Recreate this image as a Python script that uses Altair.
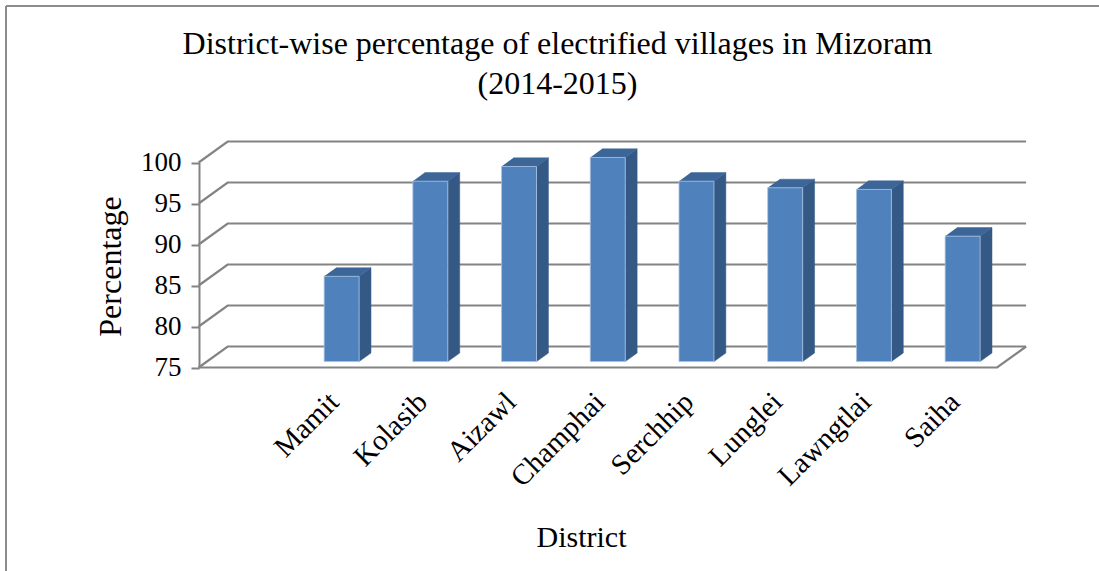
import altair as alt
import pandas as pd

# ---- data -------------------------------------------------------------
districts = ["Mamit", "Kolasib", "Aizawl", "Champhai",
             "Serchhip", "Lunglei", "Lawngtlai", "Saiha"]
percent = [85.4, 97.0, 98.8, 99.9, 97.0, 96.2, 96.0, 90.3]
y_ticks = [75, 80, 85, 90, 95, 100]
title_lines = ["District-wise percentage of electrified villages in Mizoram",
               "(2014-2015)"]

# ---- 3-D box geometry (x in category slots, y in percentage points) ----
BASE = 75
X_LEFT = -1.52      # front edge of the left wall
X_RIGHT = 7.48      # front-right corner of the floor
DEPTH_X = 0.327     # how far the back wall is shifted right
DEPTH_Y = 2.56      # how far the back wall is shifted up
BAR_HALF = 0.197    # half width of a column
BAR_FRONT = 0.28    # depth of the column front face (fraction of box depth)
BAR_BACK = 0.69     # depth of the column back face

SERIF = "Liberation Serif"
GRID = "#838383"

# gridlines run along the left wall and then across the back wall
grid_rows = []
for v in y_ticks:
    pts = [(X_LEFT, v), (X_LEFT + DEPTH_X, v + DEPTH_Y),
           (X_RIGHT + DEPTH_X, v + DEPTH_Y)]
    for k, (x, y) in enumerate(pts):
        grid_rows.append({"level": v, "k": k, "x": x, "y": y})
grid_df = pd.DataFrame(grid_rows)

# front and right edges of the floor
floor_pts = [(X_LEFT, BASE), (X_RIGHT, BASE), (X_RIGHT + DEPTH_X, BASE + DEPTH_Y)]
floor_df = pd.DataFrame([{"k": k, "x": x, "y": y} for k, (x, y) in enumerate(floor_pts)])

# each column: a front rectangle plus two parallelograms (side and top)
front_rows, side_rows, top_rows = [], [], []
for i, (name, v) in enumerate(zip(districts, percent)):
    xl, xr = i - BAR_HALF, i + BAR_HALF
    f, b = BAR_FRONT, BAR_BACK
    front_rows.append({"district": name, "value": v,
                       "x": xl + f * DEPTH_X, "x2": xr + f * DEPTH_X,
                       "y": v + f * DEPTH_Y, "y2": BASE + f * DEPTH_Y})
    side = [(xr + f * DEPTH_X, v + f * DEPTH_Y), (xr + b * DEPTH_X, v + b * DEPTH_Y),
            (xr + b * DEPTH_X, BASE + b * DEPTH_Y), (xr + f * DEPTH_X, BASE + f * DEPTH_Y)]
    top = [(xl + f * DEPTH_X, v + f * DEPTH_Y), (xr + f * DEPTH_X, v + f * DEPTH_Y),
           (xr + b * DEPTH_X, v + b * DEPTH_Y), (xl + b * DEPTH_X, v + b * DEPTH_Y)]
    for k, (x, y) in enumerate(side):
        side_rows.append({"district": name, "k": k, "x": x, "y": y})
    for k, (x, y) in enumerate(top):
        top_rows.append({"district": name, "k": k, "x": x, "y": y})
front_df = pd.DataFrame(front_rows)
side_df = pd.DataFrame(side_rows)
top_df = pd.DataFrame(top_rows)

# ---- scales and axes ---------------------------------------------------
x_scale = alt.Scale(domain=[0, 7], range=[333.5, 954.5], zero=False, nice=False)
y_scale = alt.Scale(domain=[75, 100], range=[367.5, 162.5], zero=False, nice=False)

label_expr = "[" + ",".join(f"'{d}'" for d in districts) + "][datum.value]"
x_axis = alt.Axis(values=list(range(len(districts))), labelExpr=label_expr,
                  orient="bottom", offset=-196, grid=False, ticks=False, domain=False,
                  labelAngle=-45, labelAlign="right", labelBaseline="middle",
                  labelFlush=False, labelOverlap=False, labelBound=False,
                  labelFont=SERIF, labelFontSize=29, labelColor="black", labelPadding=22,
                  title="District", titleFont=SERIF, titleFontSize=30,
                  titleFontWeight="normal", titleColor="black",
                  titleX=581, titleY=162, titleBaseline="middle", titleAlign="center")
y_axis = alt.Axis(values=y_ticks, orient="left", offset=-199, grid=False,
                  domainColor=GRID, domainWidth=2, tickColor=GRID, tickWidth=2, tickSize=8,
                  labelFont=SERIF, labelFontSize=27, labelColor="black", labelPadding=10,
                  title="Percentage", titleFont=SERIF, titleFontSize=32,
                  titleFontWeight="normal", titleColor="black",
                  titleX=-89, titleY=266, titleBaseline="middle", titleAlign="center")

X = alt.X("x:Q", scale=x_scale, axis=x_axis)
Y = alt.Y("y:Q", scale=y_scale, axis=y_axis)

grid = alt.Chart(grid_df).mark_line(color=GRID, strokeWidth=2.2).encode(
    x=X, y=Y, detail="level:N", order="k:Q")
floor = alt.Chart(floor_df).mark_line(color=GRID, strokeWidth=2.2).encode(
    x=X, y=Y, order="k:Q")

# closed outlines filled as polygons
side = alt.Chart(side_df).mark_line(fill="#355985", stroke="#355985", strokeWidth=0.5).encode(
    x=X, y=Y, detail="district:N", order="k:Q")
top = alt.Chart(top_df).mark_line(fill="#3c6598", stroke="#3c6598", strokeWidth=0.5).encode(
    x=X, y=Y, detail="district:N", order="k:Q")
front = alt.Chart(front_df).mark_rect(color="#4f81bd", stroke="#a9c1df", strokeWidth=0.8).encode(
    x=X, x2="x2:Q", y=Y, y2="y2:Q")

# chart frame: left and top edges
frame_src = pd.DataFrame({"k": [0]})
frame_left = alt.Chart(frame_src).mark_rule(color="#8c8c8c", strokeWidth=2).encode(
    x=alt.value(6), y=alt.value(6), y2=alt.value(571))
frame_top = alt.Chart(frame_src).mark_rule(color="#8c8c8c", strokeWidth=2).encode(
    x=alt.value(6), x2=alt.value(1099), y=alt.value(6))

chart = alt.layer(frame_left, frame_top, grid, floor, side, top, front).properties(
    width=1099, height=571,
    title=alt.TitleParams(text=title_lines, orient="top", anchor="middle",
                          font=SERIF, fontSize=32, fontWeight="normal", color="black",
                          lineHeight=40, baseline="top", offset=-101, dx=8),
).configure(
    padding=0, autosize=alt.AutoSizeParams(type="none"), background="white",
).configure_view(stroke=None)

chart.save("out.html", embed_options={"renderer": "svg", "actions": False})
